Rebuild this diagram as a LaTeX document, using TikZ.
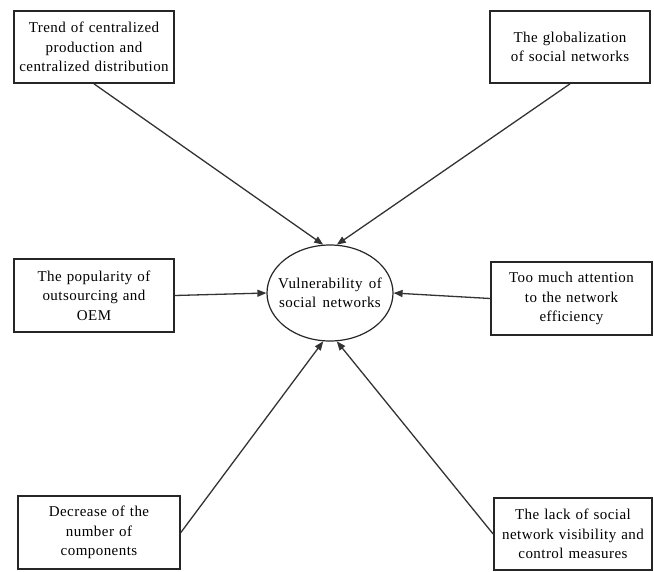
\documentclass[tikz,border=0pt]{standalone}
\usepackage{fontspec}
\setmainfont{Liberation Serif}
\newfontfamily\tfont[LetterSpace=3]{Liberation Serif}
\newcommand\diagfont{\tfont\fontsize{15}{19.5}\selectfont\spaceskip=0.42em plus 0.1em minus 0.1em\relax}
\usetikzlibrary{shapes.geometric,arrows.meta}
\begin{document}
\begin{tikzpicture}[x=1pt,y=-1pt,
  txt/.style={font=\diagfont},
  box/.style={txt,draw=black!85,line width=1.7pt,fill=white,inner sep=1pt,
    minimum width=160pt,minimum height=72pt,text width=158pt,align=center},
  oval/.style={txt,draw=black!85,line width=1.2pt,ellipse,minimum width=126pt,minimum height=96pt,
    inner xsep=-12pt,inner ysep=0pt,align=center},
  conn/.style={draw=black!80,line width=1.3pt,-{Triangle[length=9pt,width=7pt]}}]
\useasboundingbox (0,0) rectangle (654,571);
\node[box] (b1) at (94,47) {Trend of centralized\\production and\\centralized distribution};
\node[box] (b2) at (570,47) {The globalization\\of social networks};
\node[box,minimum height=73pt] (b3) at (94,295.5) {The popularity of\\outsourcing and\\OEM};
\node[box,minimum width=161pt,minimum height=73pt] (b5) at (571.5,298.5) {Too much attention\\to the network\\efficiency};
\node[box,minimum width=162pt,minimum height=73pt] (b6) at (99,532.5) {Decrease of the\\number of\\components};
\node[box,minimum width=158pt,text width=156pt] (b7) at (573,534) {The lack of social\\network visibility and\\control measures};
\node[oval] (e) at (330,293) {Vulnerability of\\social networks};
\draw[conn] (b1.south) -- (e.98);
\draw[conn] (b2.south) -- (e.82);
\draw[conn] (b3.east) -- (e.west);
\draw[conn] (b5.west) -- (e.east);
\draw[conn] (b6.east) -- (e.262);
\draw[conn] (b7.west) -- (e.278);
\end{tikzpicture}
\end{document}
